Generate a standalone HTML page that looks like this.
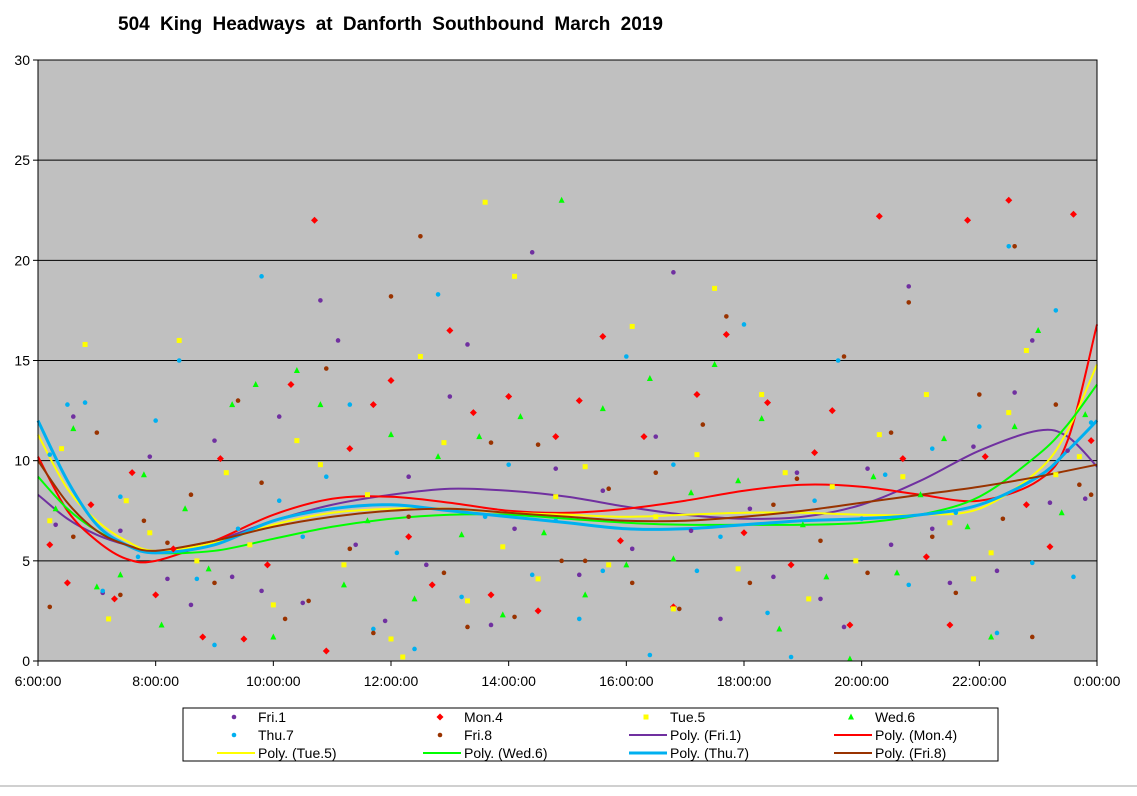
<!DOCTYPE html>
<html><head><meta charset="utf-8">
<style>
html,body{margin:0;padding:0;background:#fff;}
body{width:1137px;height:791px;overflow:hidden;font-family:"Liberation Sans",Arial,sans-serif;}
svg text{font-family:"Liberation Sans",Arial,sans-serif;}
</style></head><body>
<svg id="chart" width="1137" height="791" xmlns="http://www.w3.org/2000/svg">
<text x="118" y="30" font-size="19" font-weight="bold" word-spacing="5">504 King Headways at Danforth Southbound March 2019</text>
<rect x="38" y="60" width="1059" height="601" fill="#c0c0c0"/>
<g id="grid"></g><g id="curves"></g><g id="points"></g>
<rect x="38" y="60" width="1059" height="601" fill="none" stroke="#000" stroke-width="1"/>
<g id="axes"></g>
<g id="legend"></g>
<line x1="0" x2="1137" y1="786" y2="786" stroke="#d0d0d0" stroke-width="2"/>
</svg>
<script>
const yTicks=[0,5,10,15,20,25,30];
const xTickHours=[6,8,10,12,14,16,18,20,22,24];
const xTickLabels=["6:00:00","8:00:00","10:00:00","12:00:00","14:00:00","16:00:00","18:00:00","20:00:00","22:00:00","0:00:00"];
const seriesNames=["Fri.1","Mon.4","Tue.5","Wed.6","Thu.7","Fri.8"];
const seriesColors=["#7030a0","#ff0000","#ffff00","#00ff00","#00b0f0","#993300"];
const fri1Pts=[[6.3,6.8],[6.6,12.2],[7.1,3.4],[7.4,6.5],[7.9,10.2],[8.2,4.1],[8.6,2.8],[9.0,11],[9.3,4.2],[9.8,3.5],[10.1,12.2],[10.5,2.9],[10.8,18],[11.1,16],[11.4,5.8],[11.9,2],[12.3,9.2],[12.6,4.8],[13.0,13.2],[13.3,15.8],[13.7,1.8],[14.1,6.6],[14.4,20.4],[14.8,9.6],[15.2,4.3],[15.6,8.5],[16.1,5.6],[16.5,11.2],[16.8,19.4],[17.1,6.5],[17.6,2.1],[18.1,7.6],[18.5,4.2],[18.9,9.4],[19.3,3.1],[19.7,1.7],[20.1,9.6],[20.5,5.8],[20.8,18.7],[21.2,6.6],[21.5,3.9],[21.9,10.7],[22.3,4.5],[22.6,13.4],[22.9,16],[23.2,7.9],[23.5,10.5],[23.8,8.1]];
const mon4Pts=[[6.2,5.8],[6.5,3.9],[6.9,7.8],[7.3,3.1],[7.6,9.4],[8.0,3.3],[8.3,5.6],[8.8,1.2],[9.1,10.1],[9.5,1.1],[9.9,4.8],[10.3,13.8],[10.7,22],[10.9,0.5],[11.3,10.6],[11.7,12.8],[12.0,14],[12.3,6.2],[12.7,3.8],[13.0,16.5],[13.4,12.4],[13.7,3.3],[14.0,13.2],[14.5,2.5],[14.8,11.2],[15.2,13],[15.6,16.2],[15.9,6],[16.3,11.2],[16.8,2.7],[17.2,13.3],[17.7,16.3],[18.0,6.4],[18.4,12.9],[18.8,4.8],[19.2,10.4],[19.5,12.5],[19.8,1.8],[20.3,22.2],[20.7,10.1],[21.1,5.2],[21.5,1.8],[21.8,22],[22.1,10.2],[22.5,23],[22.8,7.8],[23.2,5.7],[23.6,22.3],[23.9,11]];
const tue5Pts=[[6.2,7],[6.4,10.6],[6.8,15.8],[7.2,2.1],[7.5,8],[7.9,6.4],[8.4,16],[8.7,5],[9.2,9.4],[9.6,5.8],[10.0,2.8],[10.4,11],[10.8,9.8],[11.2,4.8],[11.6,8.3],[12.0,1.1],[12.2,0.2],[12.5,15.2],[12.9,10.9],[13.3,3],[13.6,22.9],[13.9,5.7],[14.1,19.2],[14.5,4.1],[14.8,8.2],[15.3,9.7],[15.7,4.8],[16.1,16.7],[16.5,7.2],[16.8,2.6],[17.2,10.3],[17.5,18.6],[17.9,4.6],[18.3,13.3],[18.7,9.4],[19.1,3.1],[19.5,8.7],[19.9,5],[20.3,11.3],[20.7,9.2],[21.1,13.3],[21.5,6.9],[21.9,4.1],[22.2,5.4],[22.5,12.4],[22.8,15.5],[23.3,9.3],[23.7,10.2]];
const wed6Pts=[[6.3,7.6],[6.6,11.6],[7.0,3.7],[7.4,4.3],[7.8,9.3],[8.1,1.8],[8.5,7.6],[8.9,4.6],[9.3,12.8],[9.7,13.8],[10.0,1.2],[10.4,14.5],[10.8,12.8],[11.2,3.8],[11.6,7],[12.0,11.3],[12.4,3.1],[12.8,10.2],[13.2,6.3],[13.5,11.2],[13.9,2.3],[14.2,12.2],[14.6,6.4],[14.9,23],[15.3,3.3],[15.6,12.6],[16.0,4.8],[16.4,14.1],[16.8,5.1],[17.1,8.4],[17.5,14.8],[17.9,9],[18.3,12.1],[18.6,1.6],[19.0,6.8],[19.4,4.2],[19.8,0.1],[20.2,9.2],[20.6,4.4],[21.0,8.3],[21.4,11.1],[21.8,6.7],[22.2,1.2],[22.6,11.7],[23.0,16.5],[23.4,7.4],[23.8,12.3]];
const thu7Pts=[[6.2,10.3],[6.5,12.8],[6.8,12.9],[7.1,3.5],[7.4,8.2],[7.7,5.2],[8.0,12],[8.4,15],[8.7,4.1],[9.0,0.8],[9.4,6.6],[9.8,19.2],[10.1,8],[10.5,6.2],[10.9,9.2],[11.3,12.8],[11.7,1.6],[12.1,5.4],[12.4,0.6],[12.8,18.3],[13.2,3.2],[13.6,7.2],[14.0,9.8],[14.4,4.3],[14.8,7],[15.2,2.1],[15.6,4.5],[16.0,15.2],[16.4,0.3],[16.8,9.8],[17.2,4.5],[17.6,6.2],[18.0,16.8],[18.4,2.4],[18.8,0.2],[19.2,8],[19.6,15],[20.0,7.1],[20.4,9.3],[20.8,3.8],[21.2,10.6],[21.6,7.4],[22.0,11.7],[22.3,1.4],[22.5,20.7],[22.9,4.9],[23.3,17.5],[23.6,4.2],[23.9,11.9]];
const fri8Pts=[[6.2,2.7],[6.6,6.2],[7.0,11.4],[7.4,3.3],[7.8,7],[8.2,5.9],[8.6,8.3],[9.0,3.9],[9.4,13],[9.8,8.9],[10.2,2.1],[10.6,3],[10.9,14.6],[11.3,5.6],[11.7,1.4],[12.0,18.2],[12.3,7.2],[12.5,21.2],[12.9,4.4],[13.3,1.7],[13.7,10.9],[14.1,2.2],[14.5,10.8],[14.9,5],[15.3,5],[15.7,8.6],[16.1,3.9],[16.5,9.4],[16.9,2.6],[17.3,11.8],[17.7,17.2],[18.1,3.9],[18.5,7.8],[18.9,9.1],[19.3,6],[19.7,15.2],[20.1,4.4],[20.5,11.4],[20.8,17.9],[21.2,6.2],[21.6,3.4],[22.0,13.3],[22.4,7.1],[22.6,20.7],[22.9,1.2],[23.3,12.8],[23.7,8.8],[23.9,8.3]];
const polyHours=[6,6.5,7,7.5,8,9,10,11,12,13,14,15,16,17,18,19,20,21,22,23,23.5,24];
const polyFri1=[8.3,7.1,6.3,5.8,5.5,6,7,7.8,8.3,8.6,8.5,8.2,7.7,7.3,7.1,7.2,7.8,9,10.5,11.5,11.2,9.7];
const polyMon4=[10.2,7.5,6,5.1,5,6,7.3,8.1,8.2,7.9,7.5,7.4,7.6,8,8.5,8.8,8.7,8.3,8,9,11,16.8];
const polyTue5=[11.3,8.6,7,6,5.5,5.9,6.8,7.4,7.6,7.6,7.4,7.3,7.2,7.3,7.4,7.4,7.3,7.3,7.6,9.5,11.5,14.8];
const polyWed6=[9.2,7.6,6.5,5.8,5.4,5.5,6.1,6.7,7.1,7.3,7.3,7.1,6.9,6.8,6.8,6.8,6.9,7.3,8.2,10.3,11.8,13.8];
const polyThu7=[12,9,6.8,5.8,5.4,5.8,7,7.6,7.8,7.5,7.2,6.9,6.6,6.6,6.8,7,7.1,7.3,7.8,9.2,10.5,12];
const polyFri8=[10,7.9,6.5,5.8,5.5,6,6.7,7.2,7.5,7.6,7.4,7.2,7,7,7.2,7.5,7.9,8.3,8.7,9.2,9.5,9.8];

const NS="http://www.w3.org/2000/svg";
const X0=38,X1=1097,Y0=661,Y1=60;
const xs=h=>X0+(h-6)/18*(X1-X0);
const ys=v=>Y0-v/30*(Y0-Y1);
function mk(tag,attrs,parent){const e=document.createElementNS(NS,tag);for(const k in attrs)e.setAttribute(k,attrs[k]);parent.appendChild(e);return e;}
const grid=document.getElementById('grid'),axes=document.getElementById('axes');
yTicks.forEach(v=>{
  if(v>0&&v<30){const l=mk('line',{x1:X0,x2:X1,y1:ys(v),y2:ys(v),stroke:'#000','stroke-width':1},grid);
  
  }
  const t=mk('line',{x1:X0-5,x2:X0,y1:ys(v),y2:ys(v),stroke:'#000'},axes);
  
  
  const tx=mk('text',{x:X0-8,y:ys(v)+5,'text-anchor':'end','font-size':14},axes);tx.textContent=v;
  
  
});
xTickHours.forEach((h,i)=>{
  const t=mk('line',{x1:xs(h),x2:xs(h),y1:Y0,y2:Y0+5,stroke:'#000'},axes);
  
  
  const tx=mk('text',{x:xs(h),y:Y0+25,'text-anchor':'middle','font-size':14},axes);tx.textContent=xTickLabels[i];
  
  
});
function smoothPath(px){let d='M'+px[0][0]+','+px[0][1];
  for(let i=0;i<px.length-1;i++){const p0=px[Math.max(0,i-1)],p1=px[i],p2=px[i+1],p3=px[Math.min(px.length-1,i+2)];
    const c1=[p1[0]+(p2[0]-p0[0])/6,p1[1]+(p2[1]-p0[1])/6],c2=[p2[0]-(p3[0]-p1[0])/6,p2[1]-(p3[1]-p1[1])/6];
    d+=' C'+c1[0]+','+c1[1]+' '+c2[0]+','+c2[1]+' '+p2[0]+','+p2[1];}
  return d;}
const polys=[polyFri1,polyMon4,polyTue5,polyWed6,polyThu7,polyFri8];
const widths=[2,2,2,2,3,2];
const curves=document.getElementById('curves');
polys.forEach((vals,i)=>{
  const px=polyHours.map((h,j)=>[xs(h),ys(vals[j])]);
  const p=mk('path',{d:smoothPath(px),fill:'none',stroke:seriesColors[i],'stroke-width':widths[i]},curves);
  
  
});
function marker(shape,x,y,c,parent){
  let e;
  if(shape==='diamond')e=mk('polygon',{points:`${x},${y-3.5} ${x+3.5},${y} ${x},${y+3.5} ${x-3.5},${y}`,fill:c},parent);
  else if(shape==='square')e=mk('rect',{x:x-2.5,y:y-2.5,width:5,height:5,fill:c},parent);
  else if(shape==='triangle')e=mk('polygon',{points:`${x},${y-3.5} ${x+3},${y+2.5} ${x-3},${y+2.5}`,fill:c},parent);
  else e=mk('circle',{cx:x,cy:y,r:2.3,fill:c},parent);
  return e;}
const shapes=['circle','diamond','square','triangle','circle','circle'];
const pts=[fri1Pts,mon4Pts,tue5Pts,wed6Pts,thu7Pts,fri8Pts];
const pg=document.getElementById('points');
pts.forEach((arr,i)=>arr.forEach(p=>{
  const e=marker(shapes[i],xs(p[0]),ys(p[1]),seriesColors[i],pg);
  
  
}));
const lg=document.getElementById('legend');
mk('rect',{x:183,y:708,width:815,height:53,fill:'#fff',stroke:'#000'},lg);
const colX=[198,404,610,815];
const legendItems=[];
seriesNames.forEach((n,i)=>legendItems.push({label:n,type:'m',i}));
seriesNames.forEach((n,i)=>legendItems.push({label:'Poly. ('+n+')',type:'l',i}));
legendItems.forEach((it,k)=>{
  const col=k%4,row=Math.floor(k/4);const x=colX[col],y=718+row*18;
  const g=mk('g',{},lg);
  
  
  if(it.type==='m')marker(shapes[it.i],x+36,y-1,seriesColors[it.i],g);
  else mk('line',{x1:x+19,x2:x+57,y1:y-1,y2:y-1,stroke:seriesColors[it.i],'stroke-width':widths[it.i]},g);
  const t=mk('text',{x:x+60,y:y+4,'font-size':14},g);t.textContent=it.label;
});
</script>
</body></html>
